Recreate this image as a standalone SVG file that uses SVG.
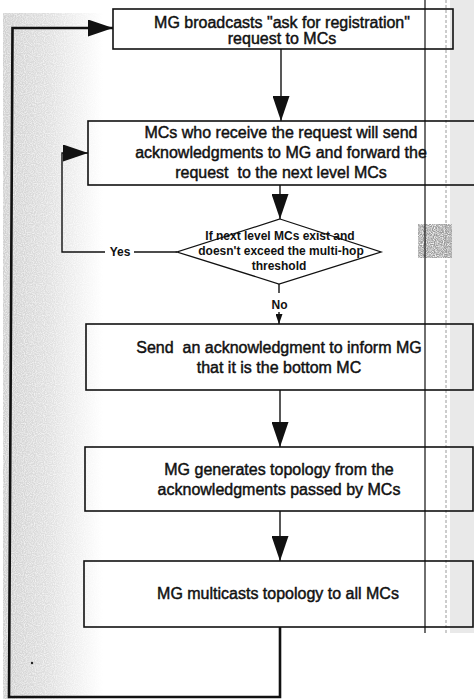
<svg xmlns="http://www.w3.org/2000/svg" width="474" height="699" viewBox="0 0 474 699">
  <defs>
    <style>
      .box { fill: none; stroke: #111; stroke-width: 1.6; }
      .dia { fill: none; stroke: #111; stroke-width: 1.3; }
      .wire { fill: none; stroke: #111; stroke-width: 1.4; }
      .loop { fill: none; stroke: #111; stroke-width: 2.6; }
      .t { font-family: "Liberation Sans", Arial, sans-serif; font-size: 16px; fill: #111; stroke: #111; stroke-width: 0.45; text-anchor: middle; white-space: pre; }
      .tb { font-family: "Liberation Sans", Arial, sans-serif; font-size: 12px; font-weight: bold; fill: #111; text-anchor: middle; }
    </style>
    <marker id="arr" markerUnits="userSpaceOnUse" viewBox="0 0 25 17" refX="25" refY="8.5" markerWidth="25" markerHeight="17" orient="auto">
      <path d="M0,0 L25,8.5 L0,17 z" fill="#111"/>
    </marker>
    <marker id="arrSmall" markerUnits="userSpaceOnUse" viewBox="0 0 10 7" refX="10" refY="3.5" markerWidth="10" markerHeight="7" orient="auto">
      <path d="M0,0 L10,3.5 L0,7 z" fill="#111"/>
    </marker>
    <linearGradient id="shadeL" x1="0" y1="0" x2="1" y2="0">
      <stop offset="0" stop-color="#cfcfcf"/>
      <stop offset="0.45" stop-color="#dedede"/>
      <stop offset="1" stop-color="#ffffff"/>
    </linearGradient>
    <filter id="grain" x="0" y="0" width="100%" height="100%">
      <feTurbulence type="fractalNoise" baseFrequency="0.9" numOctaves="1" seed="4" result="n"/>
      <feColorMatrix in="n" type="matrix" values="0 0 0 0 0  0 0 0 0 0  0 0 0 0 0  2.4 0 0 0 -0.55" result="m"/>
      <feComposite in="SourceGraphic" in2="m" operator="in"/>
    </filter>
  </defs>

  <!-- paper -->
  <rect x="0" y="0" width="474" height="699" fill="#ffffff"/>
  <g id="paper-shading">
    <rect x="3" y="13" width="100" height="686" fill="url(#shadeL)" filter="url(#grain)"/>
    <rect x="3" y="13" width="100" height="686" fill="url(#shadeL)" opacity="0.35"/>
    <rect x="450" y="0" width="24" height="633" fill="#e4e4e4" opacity="0.8"/>
    <rect x="418" y="224" width="34" height="34" fill="#9a9a9a" filter="url(#grain)"/>
    <line x1="425" y1="0" x2="425" y2="633" stroke="#222" stroke-width="1.3"/>
    <line x1="446" y1="0" x2="446" y2="633" stroke="#9a9a9a" stroke-width="1" stroke-dasharray="3 2"/>
    <circle cx="32" cy="663" r="1.2" fill="#222"/>
  </g>

  <!-- connectors -->
  <g id="connectors">
    <line class="wire" x1="281" y1="49" x2="281" y2="121" marker-end="url(#arr)"/>
    <line class="wire" x1="280" y1="185" x2="280" y2="219" marker-end="url(#arr)"/>
    <line class="wire" x1="279" y1="284" x2="279" y2="293"/>
    <line class="wire" x1="279" y1="312" x2="279" y2="324" marker-end="url(#arrSmall)"/>
    <line class="wire" x1="280" y1="390" x2="280" y2="447" marker-end="url(#arr)"/>
    <line class="wire" x1="280" y1="511" x2="280" y2="561" marker-end="url(#arr)"/>
    <path class="wire" d="M177,252 H134"/>
    <path class="wire" d="M105,252 H62 V153 H88" marker-end="url(#arr)"/>
    <path class="loop" d="M280,627 V697 H9 L12.5,28 H113" marker-end="url(#arr)"/>
    <text class="tb" x="120" y="256">Yes</text>
    <text class="tb" x="279.5" y="309">No</text>
  </g>

  <!-- process steps -->
  <g id="step-broadcast">
    <rect class="box" x="113" y="9" width="340" height="40"/>
    <text class="t" x="282" y="28">MG broadcasts "ask for registration"</text>
    <text class="t" x="282" y="44">request to MCs</text>
  </g>

  <g id="step-forward">
    <rect class="box" x="88" y="121" width="390" height="64"/>
    <text class="t" x="281" y="138">MCs who receive the request will send</text>
    <text class="t" x="281" y="158">acknowledgments to MG and forward the</text>
    <text class="t" x="281" y="178" xml:space="preserve">request  to the next level MCs</text>
  </g>

  <g id="decision-next-level">
    <polygon class="dia" points="280,219 381,252 279,284 177,252"/>
    <text class="tb" x="280" y="240">If next level MCs exist and</text>
    <text class="tb" x="281" y="255">doesn't exceed the multi-hop</text>
    <text class="tb" x="279" y="270">threshold</text>
  </g>

  <g id="step-bottom-ack">
    <rect class="box" x="86" y="324" width="387" height="66"/>
    <text class="t" x="279" y="353" xml:space="preserve">Send  an acknowledgment to inform MG</text>
    <text class="t" x="279" y="373">that it is the bottom MC</text>
  </g>

  <g id="step-generate">
    <rect class="box" x="85" y="447" width="388" height="64"/>
    <text class="t" x="279" y="475">MG generates topology from the</text>
    <text class="t" x="279" y="495">acknowledgments passed by MCs</text>
  </g>

  <g id="step-multicast">
    <rect class="box" x="84" y="561" width="389" height="66"/>
    <text class="t" x="278" y="599">MG multicasts topology to all MCs</text>
  </g>
</svg>
